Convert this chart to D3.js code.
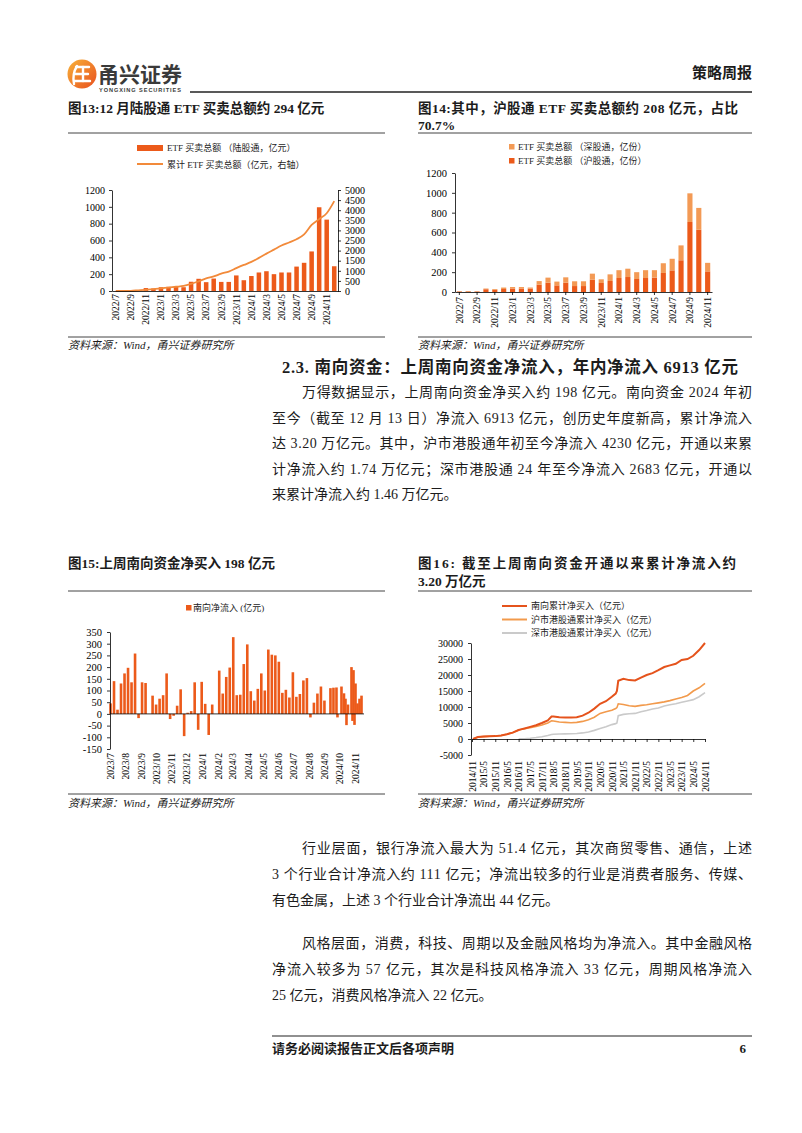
<!DOCTYPE html>
<html><head><meta charset="utf-8">
<script src="https://cdn.jsdelivr.net/npm/d3@7/dist/d3.min.js"></script>
<style>
html,body{margin:0;padding:0;background:#fff;}
</style></head>
<body><svg id="page" width="802" height="1133"></svg>
<script>
// ---------------- data ----------------
const etfMonths13 = ["2022/7","2022/8","2022/9","2022/10","2022/11","2022/12","2023/1","2023/2","2023/3","2023/4","2023/5","2023/6","2023/7","2023/8","2023/9","2023/10","2023/11","2023/12","2024/1","2024/2","2024/3","2024/4","2024/5","2024/6","2024/7","2024/8","2024/9","2024/10","2024/11","2024/12"];
const etfTotal13 = [0,8,10,8,35,30,45,50,50,45,110,145,105,148,108,108,185,128,178,220,235,200,220,220,290,335,470,995,848,294];
const etfCum13 = [0,5,10,35,60,90,130,170,210,250,350,480,620,720,860,960,1130,1290,1440,1640,1850,2050,2250,2400,2560,2800,3270,3560,3850,4450];
const tickLabels13 = ["2022/7","2022/9","2022/11","2023/1","2023/3","2023/5","2023/7","2023/9","2023/11","2024/1","2024/3","2024/5","2024/7","2024/9","2024/11"];
const leftTicks13 = [0,200,400,600,800,1000,1200];
const rightTicks13 = [0,500,1000,1500,2000,2500,3000,3500,4000,4500,5000];

const etfMonths14 = ["2022/7","2022/8","2022/9","2022/10","2022/11","2022/12","2023/1","2023/2","2023/3","2023/4","2023/5","2023/6","2023/7","2023/8","2023/9","2023/10","2023/11","2023/12","2024/1","2024/2","2024/3","2024/4","2024/5","2024/6","2024/7","2024/8","2024/9","2024/10","2024/11"];
const etfSh14 = [5,6,5,28,22,30,35,35,34,74,94,67,94,60,60,124,91,111,141,151,131,141,145,192,218,320,706,628,208];
const etfSz14 = [3,4,3,7,8,15,15,15,11,36,51,38,54,48,48,61,37,67,79,84,69,79,75,98,117,150,289,220,86];
const tickLabels14 = ["2022/7","2022/9","2022/11","2023/1","2023/3","2023/5","2023/7","2023/9","2023/11","2024/1","2024/3","2024/5","2024/7","2024/9","2024/11"];
const yTicks14 = [0,200,400,600,800,1000,1200];

const flowDates15 = ["2023-07-02","2023-07-09","2023-07-16","2023-07-23","2023-07-30","2023-08-06","2023-08-13","2023-08-20","2023-08-27","2023-09-03","2023-09-10",
 "2023-09-24","2023-10-01","2023-10-08","2023-10-15","2023-10-22","2023-10-29","2023-11-05","2023-11-12","2023-11-19","2023-11-26","2023-12-03","2023-12-10","2023-12-17","2023-12-24","2023-12-31","2024-01-07","2024-01-14","2024-01-21",
 "2024-02-04","2024-02-11","2024-02-18","2024-02-25","2024-03-03","2024-03-10","2024-03-17","2024-03-24","2024-03-31","2024-04-07","2024-04-14","2024-04-21","2024-04-28","2024-05-05","2024-05-12","2024-05-19","2024-05-26","2024-06-02","2024-06-09","2024-06-16","2024-06-23","2024-06-30","2024-07-07","2024-07-14","2024-07-21","2024-07-28","2024-08-04","2024-08-11","2024-08-18","2024-08-25","2024-09-01",
 "2024-09-13","2024-09-19","2024-09-25","2024-09-27","2024-10-05","2024-10-10","2024-10-13","2024-10-15","2024-10-18","2024-10-25","2024-10-27","2024-10-29","2024-10-31","2024-11-02","2024-11-06","2024-11-10","2024-11-14"];
const flowValues15 = [45,140,18,130,173,197,135,258,-18,135,132,
 78,40,65,80,173,-22,-8,35,105,-95,5,12,135,-68,137,43,-90,40,
 185,87,158,198,328,80,82,213,297,97,57,107,173,100,275,253,250,223,90,103,70,178,73,85,143,153,-15,48,87,117,57,
 110,112,113,-15,117,88,65,-48,40,200,-30,187,-47,130,45,65,78];
const yTicks15 = [-150,-100,-50,0,50,100,150,200,250,300,350];

const cumDates16 = ["2014-11-17","2015-02-01","2015-05-01","2015-08-01","2015-11-01","2016-02-01","2016-05-01","2016-08-01","2016-11-01","2016-12-05","2017-02-01","2017-05-01","2017-08-01","2017-11-01","2018-02-01","2018-04-01","2018-05-01","2018-08-01","2018-11-01","2019-02-01","2019-05-01","2019-08-01","2019-11-01","2020-02-01","2020-05-01","2020-08-01","2020-11-01","2021-01-01","2021-01-20","2021-02-10","2021-05-01","2021-08-01","2021-11-01","2022-02-01","2022-05-01","2022-08-01","2022-11-01","2023-02-01","2023-05-01","2023-08-01","2023-11-01","2024-02-01","2024-05-01","2024-08-01","2024-11-01"];
const cumSouth16 = [0,600,750,850,900,1100,1500,2000,2800,3000,3300,3800,4300,5000,5800,7000,7000,6800,6700,6700,6800,7300,8200,9500,11000,11800,13200,14200,15000,18200,18800,18400,18300,19200,20000,20600,21500,22500,23000,23500,24700,25000,26000,27800,30000];
const cumSh16 = [0,600,750,850,900,1100,1500,2000,2800,2950,3200,3500,3900,4400,5000,5700,5600,5300,5200,5100,5200,5500,6000,6800,8000,8500,9000,9500,9800,11000,10800,10400,10200,10500,10700,11000,11300,11600,12000,12500,13000,13600,15000,16000,17400];
const cumSz16 = [null,null,null,null,null,null,null,null,0,50,100,250,450,700,1100,1400,1500,1550,1600,1650,1700,1900,2200,2700,3300,3800,4500,4800,5000,7300,7700,7900,8000,8500,8900,9400,9700,10300,10700,11000,11500,11900,12300,13200,14500];
const tickLabels16 = ["2014/11","2015/5","2015/11","2016/5","2016/11","2017/5","2017/11","2018/5","2018/11","2019/5","2019/11","2020/5","2020/11","2021/5","2021/11","2022/5","2022/11","2023/5","2023/11","2024/5","2024/11"];
const yTicks16 = [-5000,0,5000,10000,15000,20000,25000,30000];

// ---------------- styles ----------------
const FONT = "'Liberation Serif','Noto Sans CJK SC',serif";
const INK = "#1c1c1c";
const BAR = "#EC5A1A";
const BAR_LIGHT = "#F39A55";
const LINE13 = "#F28A3A";
const L_SOUTH = "#E5531C", L_SH = "#F29A4C", L_SZ = "#CACACA";

const svg = d3.select("#page").attr("font-family", FONT);
svg.append("rect").attr("width",802).attr("height",1133).attr("fill","#fff");

function txt(g, x, y, s, o = {}) {
  const t = g.append("text").attr("x", x).attr("y", y).text(s)
    .attr("font-size", o.size || 12).attr("fill", o.fill || INK)
    .attr("font-weight", o.weight || "normal")
    .attr("text-anchor", o.anchor || "start");
  if (o.style) t.attr("font-style", o.style);
  if (o.len) t.attr("textLength", o.len).attr("lengthAdjust", "spacing");
  return t;
}
function hline(x1, x2, y, w = 1, c = "#333") {
  svg.append("line").attr("x1", x1).attr("x2", x2).attr("y1", y).attr("y2", y)
    .attr("stroke", c).attr("stroke-width", w);
}
function styleAxis(ax, size) {
  ax.attr("font-family", FONT).attr("font-size", size);
  ax.selectAll("path,line").attr("stroke", "#000").attr("stroke-width", 0.8);
  ax.selectAll("text").attr("fill", "#000");
}

// ---------------- header ----------------
const defs = svg.append("defs");
const lg = defs.append("linearGradient").attr("id","logoG").attr("x1","0").attr("y1","0").attr("x2","1").attr("y2","1");
lg.append("stop").attr("offset","0").attr("stop-color","#F8B23A");
lg.append("stop").attr("offset","1").attr("stop-color","#E8501E");
svg.append("circle").attr("cx",82).attr("cy",74).attr("r",14.5).attr("fill","url(#logoG)");
const lw = svg.append("g").attr("stroke","#fff").attr("stroke-width",2.4).attr("fill","none").attr("stroke-linecap","round");
lw.append("path").attr("d","M77 66 Q72 74 74 84");
lw.append("line").attr("x1",76).attr("x2",89).attr("y1",67).attr("y2",67);
lw.append("line").attr("x1",75).attr("x2",88).attr("y1",74).attr("y2",74);
lw.append("line").attr("x1",74).attr("x2",90).attr("y1",81).attr("y2",81);
lw.append("line").attr("x1",83).attr("x2",83).attr("y1",67).attr("y2",81);
txt(svg, 98, 82, "甬兴证券", {size: 21, weight: "bold", fill: "#3a3a3a"}).attr("font-family","'Noto Sans CJK SC',sans-serif");
txt(svg, 99, 92, "YONGXING SECURITIES", {size: 5.6, weight: "bold", fill: "#3a3a3a", len: 82}).attr("font-family","'Liberation Sans',sans-serif");
txt(svg, 752, 78, "策略周报", {size: 15, weight: "bold", anchor: "end"});
hline(190, 752, 92, 1.4, "#222");

// ---------------- figure titles ----------------
txt(svg, 68, 113, "图13:12 月陆股通 ETF 买卖总额约 294 亿元", {size: 13.5, weight: "bold"});
txt(svg, 418, 113, "图14:其中，沪股通 ETF 买卖总额约 208 亿元，占比", {size: 13.5, weight: "bold", len: 320});
txt(svg, 418, 130, "70.7%", {size: 13.5, weight: "bold"});
hline(68, 385, 133, 1, "#444");
hline(418, 752, 133, 1, "#444");

// ================= Chart 13 =================
{
  const g = svg.append("g");
  const L = 112, R = 338, T = 190, B = 291;
  const x = d3.scaleBand().domain(etfMonths13).range([L, R]).paddingInner(0.4).paddingOuter(0.2);
  const y = d3.scaleLinear().domain([0, 1200]).range([B, T]);
  const yr = d3.scaleLinear().domain([0, 5000]).range([B, T]);
  g.selectAll(".b").data(etfMonths13).join("rect")
    .attr("x", d => x(d)).attr("width", x.bandwidth())
    .attr("y", (d, i) => y(etfTotal13[i])).attr("height", (d, i) => B - y(etfTotal13[i]))
    .attr("fill", BAR);
  const line = d3.line().x((d, i) => x(etfMonths13[i]) + x.bandwidth() / 2).y(d => yr(d)).curve(d3.curveMonotoneX);
  g.append("path").datum(etfCum13).attr("d", line).attr("fill", "none").attr("stroke", LINE13).attr("stroke-width", 1.8);
  const al = g.append("g").attr("transform", `translate(${L},0)`)
    .call(d3.axisLeft(y).tickValues(leftTicks13).tickSize(3).tickSizeOuter(0).tickPadding(4).tickFormat(d => String(d)));
  styleAxis(al, 10);
  const ar = g.append("g").attr("transform", `translate(${R},0)`)
    .call(d3.axisRight(yr).tickValues(rightTicks13).tickSize(3).tickSizeOuter(0).tickPadding(4).tickFormat(d => String(d)));
  styleAxis(ar, 10);
  const ab = g.append("g").attr("transform", `translate(0,${B})`)
    .call(d3.axisBottom(x).tickValues(tickLabels13).tickSize(0).tickSizeOuter(0).tickPadding(3));
  styleAxis(ab, 9.5);
  ab.selectAll("text").attr("transform", "rotate(-90)").attr("text-anchor", "end")
    .attr("x", -3).attr("y", 0).attr("dy", "0.35em");
  // legend
  g.append("rect").attr("x", 137).attr("y", 145).attr("width", 26).attr("height", 6).attr("fill", BAR);
  txt(g, 167, 151, "ETF 买卖总额 （陆股通，亿元）", {size: 9});
  g.append("line").attr("x1", 137).attr("x2", 163).attr("y1", 164).attr("y2", 164).attr("stroke", LINE13).attr("stroke-width", 2);
  txt(g, 167, 167.5, "累计 ETF 买卖总额（亿元，右轴）", {size: 9});
}

// ================= Chart 14 =================
{
  const g = svg.append("g");
  const L = 455, R = 712, T = 173, B = 292;
  const x = d3.scaleBand().domain(etfMonths14).range([L, R]).paddingInner(0.42).paddingOuter(0.2);
  const y = d3.scaleLinear().domain([0, 1200]).range([B, T]);
  const rows = etfMonths14.map((m, i) => ({m, sh: etfSh14[i], sz: etfSz14[i]}));
  const stack = d3.stack().keys(["sh", "sz"])(rows);
  const colors = {sh: BAR, sz: BAR_LIGHT};
  stack.forEach(layer => {
    g.selectAll(null).data(layer).join("rect")
      .attr("x", d => x(d.data.m)).attr("width", x.bandwidth())
      .attr("y", d => y(d[1])).attr("height", d => y(d[0]) - y(d[1]))
      .attr("fill", colors[layer.key]);
  });
  const al = g.append("g").attr("transform", `translate(${L},0)`)
    .call(d3.axisLeft(y).tickValues(yTicks14).tickSize(3).tickSizeOuter(0).tickPadding(5).tickFormat(d => String(d)));
  styleAxis(al, 10.5);
  const ab = g.append("g").attr("transform", `translate(0,${B})`)
    .call(d3.axisBottom(x).tickValues(tickLabels14).tickSize(3).tickSizeOuter(0).tickPadding(3));
  styleAxis(ab, 9.5);
  ab.selectAll("text").attr("transform", "rotate(-90)").attr("text-anchor", "end")
    .attr("x", -5).attr("y", 0).attr("dy", "0.35em");
  g.append("rect").attr("x", 509).attr("y", 144).attr("width", 5.5).attr("height", 5.5).attr("fill", BAR_LIGHT);
  txt(g, 518, 150, "ETF 买卖总额 （深股通，亿份）", {size: 9});
  g.append("rect").attr("x", 509).attr("y", 158).attr("width", 5.5).attr("height", 5.5).attr("fill", BAR);
  txt(g, 518, 164, "ETF 买卖总额 （沪股通，亿份）", {size: 9});
}

// sources row 1
hline(68, 385, 337, 1, "#444");
hline(418, 752, 337, 1, "#444");
txt(svg, 68, 349, "资料来源：Wind，甬兴证券研究所", {size: 11, style: "italic"});
txt(svg, 418, 349, "资料来源：Wind，甬兴证券研究所", {size: 11, style: "italic"});

// ---------------- section text ----------------
txt(svg, 282, 373, "2.3. 南向资金：上周南向资金净流入，年内净流入 6913 亿元", {size: 16.5, weight: "bold", len: 456});
const para1 = [
  ["万得数据显示，上周南向资金净买入约 198 亿元。南向资金 2024 年初", 302, 450],
  ["至今（截至 12 月 13 日）净流入 6913 亿元，创历史年度新高，累计净流入", 272, 480],
  ["达 3.20 万亿元。其中，沪市港股通年初至今净流入 4230 亿元，开通以来累", 272, 480],
  ["计净流入约 1.74 万亿元；深市港股通 24 年至今净流入 2683 亿元，开通以", 272, 480],
  ["来累计净流入约 1.46 万亿元。", 272, 0]
];
para1.forEach((l, i) => txt(svg, l[1], 397 + i * 25.6, l[0], {size: 14, len: l[2] || null}));

// figure titles row 2
txt(svg, 68, 568, "图15:上周南向资金净买入 198 亿元", {size: 13.5, weight: "bold"});
txt(svg, 418, 568, "图16: 截至上周南向资金开通以来累计净流入约", {size: 13.5, weight: "bold", len: 318});
txt(svg, 418, 586, "3.20 万亿元", {size: 13.5, weight: "bold"});
hline(68, 385, 591, 1, "#444");
hline(418, 752, 591, 1, "#444");

// ================= Chart 15 =================
{
  const g = svg.append("g");
  const L = 110, R = 364, T = 632, B = 749;
  const parse = d3.timeParse("%Y-%m-%d");
  const x = d3.scaleTime().domain([new Date(2023, 6, 1), new Date(2024, 10, 1)]).range([L, 355]);
  const y = d3.scaleLinear().domain([-150, 350]).range([B, T]);
  const bw = 2.6;
  g.selectAll(null).data(flowValues15).join("rect")
    .attr("x", (d, i) => x(parse(flowDates15[i])) - bw / 2).attr("width", bw)
    .attr("y", d => y(Math.max(0, d))).attr("height", d => Math.abs(y(d) - y(0)))
    .attr("fill", BAR);
  const al = g.append("g").attr("transform", `translate(${L},0)`)
    .call(d3.axisLeft(y).tickValues(yTicks15).tickSize(3).tickSizeOuter(0).tickPadding(5).tickFormat(d => String(d)));
  styleAxis(al, 10.5);
  g.append("line").attr("x1", L).attr("x2", R).attr("y1", y(0)).attr("y2", y(0)).attr("stroke", "#000").attr("stroke-width", 0.8);
  const months = d3.timeMonth.range(new Date(2023, 6, 1), new Date(2024, 10, 2));
  const ab = g.append("g").attr("transform", `translate(0,${B + 3})`)
    .call(d3.axisBottom(x).tickValues(months).tickSize(0).tickPadding(0).tickFormat(d3.timeFormat("%Y/%-m")));
  ab.select(".domain").remove();
  styleAxis(ab, 9.5);
  ab.selectAll("text").attr("transform", "rotate(-90)").attr("text-anchor", "end")
    .attr("x", -1).attr("y", 0).attr("dy", "0.35em");
  g.append("rect").attr("x", 186).attr("y", 605).attr("width", 5.5).attr("height", 5.5).attr("fill", BAR);
  txt(g, 193, 611, "南向净流入 (亿元)", {size: 9});
}

// ================= Chart 16 =================
{
  const g = svg.append("g");
  const L = 471, R = 705, T = 643, B = 755;
  const parse = d3.timeParse("%Y-%m-%d");
  const x = d3.scaleTime().domain([new Date(2014, 10, 1), new Date(2024, 10, 1)]).range([L + 1, R]);
  const y = d3.scaleLinear().domain([-5000, 30000]).range([B, T]);
  const dts = cumDates16.map(parse);
  const mk = arr => d3.line().defined(d => d != null).x((d, i) => x(dts[i])).y(d => y(d))(arr);
  g.append("path").attr("d", mk(cumSz16)).attr("fill", "none").attr("stroke", L_SZ).attr("stroke-width", 1.6);
  g.append("path").attr("d", mk(cumSh16)).attr("fill", "none").attr("stroke", L_SH).attr("stroke-width", 1.6);
  g.append("path").attr("d", mk(cumSouth16)).attr("fill", "none").attr("stroke", L_SOUTH).attr("stroke-width", 2);
  const al = g.append("g").attr("transform", `translate(${L},0)`)
    .call(d3.axisLeft(y).tickValues(yTicks16).tickSize(3).tickSizeOuter(0).tickPadding(5).tickFormat(d => String(d)));
  styleAxis(al, 10);
  const labelDates = tickLabels16.map(s => d3.timeParse("%Y/%m")(s));
  const a0 = g.append("g").attr("transform", `translate(0,${y(0)})`)
    .call(d3.axisBottom(x).tickValues(labelDates).tickSize(3).tickSizeOuter(0).tickFormat(""));
  styleAxis(a0, 9);
  const ab = g.append("g").attr("transform", `translate(0,${B + 5})`)
    .call(d3.axisBottom(x).tickValues(labelDates).tickSize(0).tickPadding(0).tickFormat((d, i) => tickLabels16[i]));
  ab.select(".domain").remove();
  styleAxis(ab, 9.5);
  ab.selectAll("text").attr("transform", "rotate(-90)").attr("text-anchor", "end")
    .attr("x", -1).attr("y", 0).attr("dy", "0.35em");
  const leg = [["南向累计净买入（亿元）", L_SOUTH, 606], ["沪市港股通累计净买入（亿元）", L_SH, 619.5], ["深市港股通累计净买入（亿元）", L_SZ, 633]];
  leg.forEach(l => {
    g.append("line").attr("x1", 502).attr("x2", 527).attr("y1", l[2]).attr("y2", l[2]).attr("stroke", l[1]).attr("stroke-width", 2);
    txt(g, 531, l[2] + 3.3, l[0], {size: 9});
  });
}

// sources row 2
hline(68, 385, 794, 1, "#444");
hline(418, 752, 794, 1, "#444");
txt(svg, 68, 807, "资料来源：Wind，甬兴证券研究所", {size: 11, style: "italic"});
txt(svg, 418, 807, "资料来源：Wind，甬兴证券研究所", {size: 11, style: "italic"});

// ---------------- paragraphs 2 & 3 ----------------
const para2 = [
  ["行业层面，银行净流入最大为 51.4 亿元，其次商贸零售、通信，上述", 302, 450],
  ["3 个行业合计净流入约 111 亿元；净流出较多的行业是消费者服务、传媒、", 272, 480],
  ["有色金属，上述 3 个行业合计净流出 44 亿元。", 272, 0]
];
para2.forEach((l, i) => txt(svg, l[1], 853 + i * 25.8, l[0], {size: 14, len: l[2] || null}));
const para3 = [
  ["风格层面，消费，科技、周期以及金融风格均为净流入。其中金融风格", 302, 450],
  ["净流入较多为 57 亿元，其次是科技风格净流入 33 亿元，周期风格净流入", 272, 480],
  ["25 亿元，消费风格净流入 22 亿元。", 272, 0]
];
para3.forEach((l, i) => txt(svg, l[1], 948 + i * 25.8, l[0], {size: 14, len: l[2] || null}));

// ---------------- footer ----------------
hline(272, 752, 1036, 1.2, "#222");
txt(svg, 272, 1053, "请务必阅读报告正文后各项声明", {size: 13, weight: "bold"});
txt(svg, 746, 1053, "6", {size: 13, weight: "bold", anchor: "end"});
</script>
</body></html>
